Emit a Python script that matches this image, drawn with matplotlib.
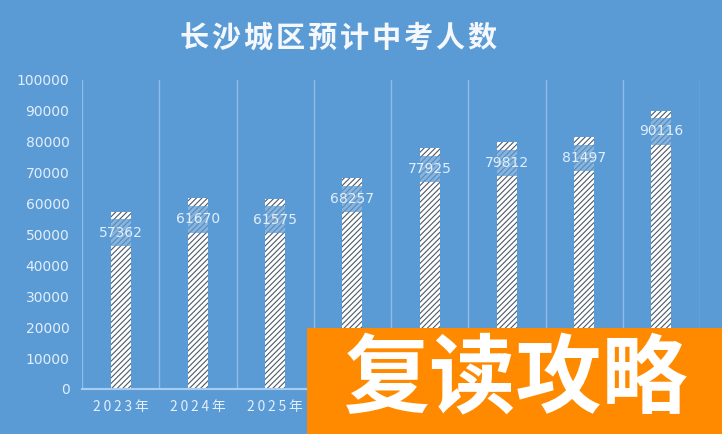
import matplotlib
matplotlib.use('Agg')
import matplotlib.pyplot as plt
from matplotlib.patches import Rectangle

years = ['2023年', '2024年', '2025年', '2026年', '2027年', '2028年', '2029年', '2030年']
students = [57362, 61670, 61575, 68257, 77925, 79812, 81497, 90116]
yticks = [0, 10000, 20000, 30000, 40000, 50000, 60000, 70000, 80000, 90000, 100000]

title = '长沙城区预计中考人数'
stamp = '复读攻略'

bg = '#5b9bd5'
light = '#e2eefa'
cjk = ['Noto Sans CJK SC', 'DejaVu Sans']

plt.rcParams['hatch.linewidth'] = 0.8

fig = plt.figure(figsize=(7.22, 4.34), dpi=100, facecolor=bg)
ax = fig.add_axes([82 / 722, 1 - 389 / 434, 618 / 722, 309 / 434])
ax.set_facecolor(bg)

x = list(range(len(years)))
ax.bar(x, students, width=0.26, facecolor='white', edgecolor='#4a5a6a',
       linewidth=0, hatch='//////', zorder=2)

for i, v in enumerate(students):
    ax.annotate(str(v), (i, v), xytext=(0, -15), textcoords='offset points',
                ha='center', va='center', fontsize=10, color=light, zorder=3,
                bbox=dict(boxstyle='square,pad=0.45', facecolor=bg,
                          edgecolor='none', alpha=0.75))

# category separators
for b in range(len(years) + 1):
    ax.axvline(b - 0.5, color='#8fbde8', linewidth=1, zorder=1)

ax.set_xlim(-0.5, len(years) - 0.5)
ax.set_ylim(0, 100000)
ax.set_yticks(yticks)
ax.set_yticklabels([str(t) for t in yticks], fontsize=10, color=light)
ax.set_xticks(x)
ax.set_xticklabels(['\u2009'.join(y) for y in years], fontsize=10,
                   color=light, family=cjk)
ax.tick_params(axis='y', length=0, pad=9)
ax.tick_params(axis='x', length=0, pad=8)

for s in ['left', 'right', 'top']:
    ax.spines[s].set_visible(False)
ax.spines['bottom'].set_color('#a8cdf0')
ax.spines['bottom'].set_linewidth(1.5)

fig.text(339 / 722, 1 - 38 / 434, '\u200a'.join(title), ha='center',
         va='center', fontsize=21, fontweight='bold', color='#f4f8fc',
         family=cjk)

# orange watermark box
fig.patches.append(Rectangle((307 / 722, 0), 1 - 307 / 722, 106 / 434,
                             transform=fig.transFigure, facecolor='#ff8a00',
                             edgecolor='none', zorder=10))
fig.text(516 / 722, 1 - 381 / 434, stamp, ha='center', va='center',
         fontsize=62, fontweight='bold', color='white', family=cjk, zorder=11)

fig.savefig('out.png', dpi=100, facecolor=bg)
